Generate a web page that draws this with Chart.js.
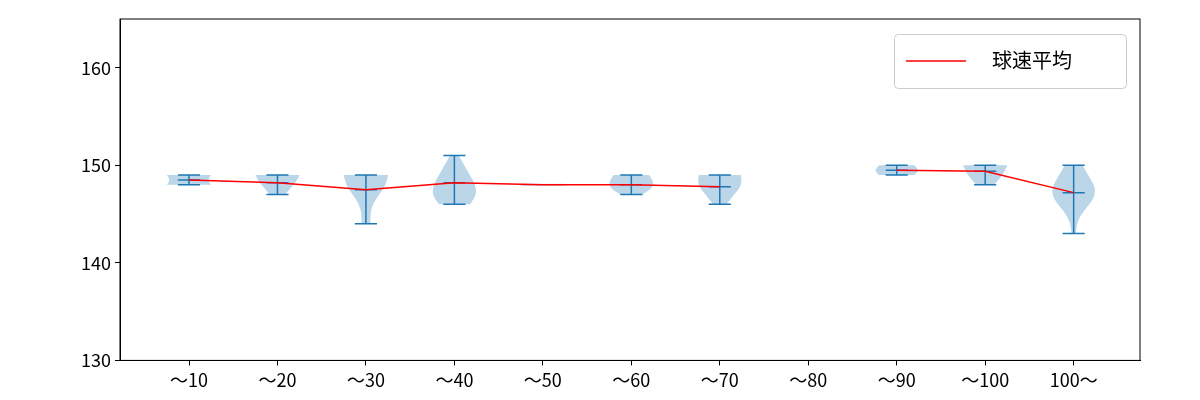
<!DOCTYPE html>
<html>
<head>
<meta charset="utf-8">
<script src="https://cdn.jsdelivr.net/npm/chart.js@4/dist/chart.umd.min.js"></script>
<style>body{margin:0;background:#fff}#wrap{width:1200px;height:400px}</style>
</head>
<body>
<div id="wrap"><canvas id="c"></canvas></div>
<script>
const labels = ["～10", "～20", "～30", "～40", "～50", "～60", "～70", "～80", "～90", "～100", "100～"];
const means = [148.5, 148.2, 147.5, 148.2, 148.0, 148.0, 147.8, null, 149.5, 149.4, 147.2];
const mins = [148, 147, 144, 146, 148, 147, 146, null, 149, 148, 143];
const maxs = [149, 149, 149, 151, 148, 149, 149, null, 150, 150, 150];
// relative half-widths from min (first) to max (last)
const shapes = [
  [1, 0.85, 1],
  [0.35, 0.6, 0.85, 1],
  [0.2, 0.2, 0.3, 0.6, 0.9, 1],
  [0.7, 1, 0.95, 0.7, 0.45, 0.2],
  [1],
  [0.5, 0.95, 1, 0.8],
  [0.3, 0.65, 1, 0.95],
  null,
  [0.8, 1, 0.8],
  [0.4, 0.8, 1],
  [0.1, 0.15, 0.45, 0.9, 1, 0.7, 0.4]
];
const font = "'Noto Sans CJK JP', 'Noto Sans', sans-serif";

const violins = {
  id: "violins",
  beforeDatasetsDraw(chart) {
    const ctx = chart.ctx, xs = chart.scales.x, ys = chart.scales.y;
    const half = (xs.getPixelForValue(1.25) - xs.getPixelForValue(1));
    ctx.save();
    shapes.forEach((s, i) => {
      if (!s) return;
      const cx = xs.getPixelForValue(i + 1);
      const y0 = ys.getPixelForValue(mins[i]), y1 = ys.getPixelForValue(maxs[i]);
      ctx.fillStyle = "rgba(31,119,180,0.3)";
      if (s.length === 1) {
        ctx.fillRect(cx - half * s[0], y0 - 1, 2 * half * s[0], 2);
      } else {
        const pts = s.map((w, k) => [w * half, y0 + (y1 - y0) * k / (s.length - 1)]);
        ctx.beginPath();
        ctx.moveTo(cx + pts[0][0], pts[0][1]);
        for (let k = 1; k < pts.length; k++) {
          const mx = (pts[k - 1][0] + pts[k][0]) / 2, my = (pts[k - 1][1] + pts[k][1]) / 2;
          ctx.quadraticCurveTo(cx + pts[k - 1][0], pts[k - 1][1], cx + mx, my);
        }
        ctx.lineTo(cx + pts[pts.length - 1][0], pts[pts.length - 1][1]);
        ctx.lineTo(cx - pts[pts.length - 1][0], pts[pts.length - 1][1]);
        for (let k = pts.length - 1; k > 0; k--) {
          const mx = (pts[k - 1][0] + pts[k][0]) / 2, my = (pts[k - 1][1] + pts[k][1]) / 2;
          ctx.quadraticCurveTo(cx - pts[k][0], pts[k][1], cx - mx, my);
        }
        ctx.lineTo(cx - pts[0][0], pts[0][1]);
        ctx.closePath();
        ctx.fill();
      }
      if (mins[i] === maxs[i]) return;
      ctx.strokeStyle = "#1f77b4";
      ctx.lineWidth = 1.5;
      const cap = half * 0.5;
      ctx.beginPath();
      ctx.moveTo(cx, y0); ctx.lineTo(cx, y1);
      [mins[i], maxs[i], means[i]].forEach(v => {
        const y = ys.getPixelForValue(v);
        ctx.moveTo(cx - cap, y); ctx.lineTo(cx + cap, y);
      });
      ctx.stroke();
    });
    ctx.restore();
  },
  afterDraw(chart) {
    const ctx = chart.ctx, a = chart.chartArea;
    const bx = a.right - 246, by = a.top + 15, bw = 232, bh = 54;
    ctx.save();
    ctx.fillStyle = "rgba(255,255,255,0.8)";
    ctx.strokeStyle = "#cccccc";
    ctx.lineWidth = 1;
    ctx.beginPath();
    ctx.roundRect(bx + 0.5, by + 0.5, bw, bh, 4);
    ctx.fill(); ctx.stroke();
    ctx.strokeStyle = "red";
    ctx.lineWidth = 1.5;
    ctx.beginPath();
    ctx.moveTo(bx + 12, by + 27); ctx.lineTo(bx + 72, by + 27);
    ctx.stroke();
    ctx.fillStyle = "#000";
    ctx.font = "20px " + font;
    ctx.textBaseline = "middle";
    ctx.fillText("球速平均", bx + 98, by + 26);
    ctx.restore();
  }
};

new Chart(document.getElementById("c"), {
  type: "line",
  data: {
    datasets: [{
      label: "球速平均",
      data: means.map((v, i) => ({ x: i + 1, y: v })),
      borderColor: "red",
      borderWidth: 1.5,
      pointRadius: 0,
      spanGaps: false,
      tension: 0
    }]
  },
  options: {
    responsive: true,
    maintainAspectRatio: false,
    animation: false,
    layout: { padding: { top: 19, right: 60, bottom: 5, left: 0 } },
    plugins: { legend: { display: false }, tooltip: { enabled: false } },
    scales: {
      x: {
        type: "linear",
        min: 0.22,
        max: 11.75,
        afterBuildTicks: s => { s.ticks = labels.map((_, i) => ({ value: i + 1 })); },
        ticks: { callback: v => labels[v - 1], color: "#000", font: { size: 18, family: font }, padding: 4, maxRotation: 0, autoSkip: false },
        grid: { drawOnChartArea: false, color: "#000", tickLength: 5 },
        border: { color: "#000", width: 1 }
      },
      y: {
        min: 130,
        max: 165,
        afterBuildTicks: s => { s.ticks = [130, 140, 150, 160].map(v => ({ value: v })); },
        afterFit: s => { s.width = 120; },
        ticks: { color: "#000", font: { size: 18, family: font }, padding: 4 },
        grid: { drawOnChartArea: false, color: "#000", tickLength: 5 },
        border: { color: "#000", width: 1 }
      }
    }
  },
  plugins: [violins, {
    id: "frame",
    afterDraw(chart) {
      const ctx = chart.ctx, a = chart.chartArea;
      ctx.save();
      ctx.strokeStyle = "#000"; ctx.lineWidth = 1;
      ctx.strokeRect(a.left, a.top, a.right - a.left, a.bottom - a.top);
      ctx.restore();
    }
  }]
});
</script>
</body>
</html>
